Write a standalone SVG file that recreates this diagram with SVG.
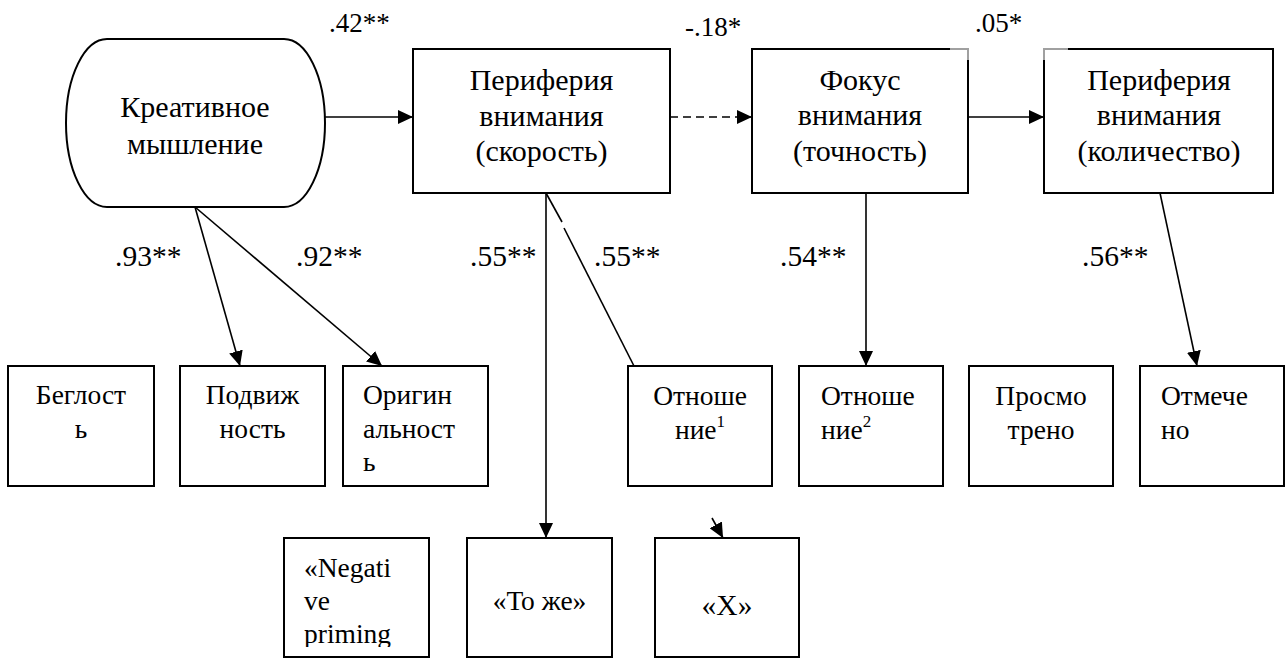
<svg xmlns="http://www.w3.org/2000/svg" width="1287" height="659" viewBox="0 0 1287 659">
  <style>
    .box { fill: #fff; stroke: #000; stroke-width: 2; }
    .edge { fill: none; stroke: #000; stroke-width: 1.6; }
    .arrow { marker-end: url(#ah); }
    .dash { stroke-dasharray: 8 5; }
    .ghost { stroke: #a0a0a0; stroke-width: 2; fill: none; }
  </style>
  <defs>
    <marker id="ah" markerUnits="userSpaceOnUse" markerWidth="16" markerHeight="14" refX="15" refY="7" orient="auto">
      <path d="M0,0 L15,7 L0,14 z" fill="#000"/>
    </marker>
    <clipPath id="clipNeg">
      <rect x="284" y="538" width="145" height="109"/>
    </clipPath>
  </defs>

  <rect width="1287" height="659" fill="#fff"/>

  <!-- connectors -->
  <g id="connectors">
    <line class="edge arrow" x1="325" y1="117" x2="413" y2="117"/>
    <line class="edge arrow dash" x1="670" y1="117" x2="752" y2="117"/>
    <line class="edge arrow" x1="968" y1="117" x2="1044" y2="117"/>
    <line class="edge arrow" x1="195" y1="207" x2="240" y2="366"/>
    <line class="edge arrow" x1="195" y1="207" x2="382" y2="366"/>
    <line class="edge arrow" x1="546" y1="193" x2="546" y2="538"/>
    <line class="edge" x1="546" y1="193" x2="562" y2="222"/>
    <line class="edge" x1="564" y1="228" x2="634" y2="366"/>
    <line class="edge arrow" x1="712" y1="518" x2="723" y2="538"/>
    <line class="edge arrow" x1="866" y1="193" x2="866" y2="366"/>
    <line class="edge arrow" x1="1160" y1="193" x2="1197" y2="366"/>
  </g>

  <!-- top row -->
  <g id="creative">
    <path class="box" d="M107,39 H284 A41,84 0 0 1 284,207 H107 A41,84 0 0 1 107,39 Z"/>
    <text font-family="'Liberation Serif', serif" font-size="30" text-anchor="middle" x="195" y="117">Креативное</text>
    <text font-family="'Liberation Serif', serif" font-size="30" text-anchor="middle" x="195" y="154">мышление</text>
  </g>
  <g id="periphery-speed">
    <rect class="box" x="413" y="49" width="257" height="144"/>
    <text font-family="'Liberation Serif', serif" font-size="30" text-anchor="middle" x="541.5" y="90">Периферия</text>
    <text font-family="'Liberation Serif', serif" font-size="30" text-anchor="middle" x="541.5" y="126">внимания</text>
    <text font-family="'Liberation Serif', serif" font-size="30" text-anchor="middle" x="541.5" y="161">(скорость)</text>
  </g>
  <g id="focus-accuracy">
    <rect class="box" x="752" y="49" width="216" height="144"/>
    <path class="ghost" d="M950,49 H968 V60"/>
    <text font-family="'Liberation Serif', serif" font-size="30" text-anchor="middle" x="860" y="90">Фокус</text>
    <text font-family="'Liberation Serif', serif" font-size="30" text-anchor="middle" x="860" y="125">внимания</text>
    <text font-family="'Liberation Serif', serif" font-size="30" text-anchor="middle" x="860" y="161">(точность)</text>
  </g>
  <g id="periphery-count">
    <rect class="box" x="1044" y="49" width="229" height="144"/>
    <path class="ghost" d="M1044,60 V49 H1068"/>
    <text font-family="'Liberation Serif', serif" font-size="30" text-anchor="middle" x="1159" y="90">Периферия</text>
    <text font-family="'Liberation Serif', serif" font-size="30" text-anchor="middle" x="1159" y="125">внимания</text>
    <text font-family="'Liberation Serif', serif" font-size="30" text-anchor="middle" x="1159" y="161">(количество)</text>
  </g>

  <!-- path coefficients -->
  <g id="coefficients">
    <text font-family="'Liberation Serif', serif" font-size="27" x="329" y="32">.42**</text>
    <text font-family="'Liberation Serif', serif" font-size="27" x="685" y="36">-.18*</text>
    <text font-family="'Liberation Serif', serif" font-size="27" x="975" y="32">.05*</text>
    <text font-family="'Liberation Serif', serif" font-size="29.5" x="115" y="266">.93**</text>
    <text font-family="'Liberation Serif', serif" font-size="29.5" x="296" y="266">.92**</text>
    <text font-family="'Liberation Serif', serif" font-size="29.5" x="470" y="266">.55**</text>
    <text font-family="'Liberation Serif', serif" font-size="29.5" x="594" y="266">.55**</text>
    <text font-family="'Liberation Serif', serif" font-size="29.5" x="780" y="266">.54**</text>
    <text font-family="'Liberation Serif', serif" font-size="29.5" x="1082" y="266">.56**</text>
  </g>

  <!-- indicator row -->
  <g id="fluency">
    <rect class="box" x="8" y="366" width="146" height="120"/>
    <text font-family="'Liberation Serif', serif" font-size="27.5" text-anchor="middle" x="81" y="404">Беглост</text>
    <text font-family="'Liberation Serif', serif" font-size="27.5" text-anchor="middle" x="81" y="438">ь</text>
  </g>
  <g id="flexibility">
    <rect class="box" x="180" y="366" width="145" height="120"/>
    <text font-family="'Liberation Serif', serif" font-size="27.5" text-anchor="middle" x="252.5" y="404">Подвиж</text>
    <text font-family="'Liberation Serif', serif" font-size="27.5" text-anchor="middle" x="252.5" y="438">ность</text>
  </g>
  <g id="originality">
    <rect class="box" x="343" y="366" width="145" height="120"/>
    <text font-family="'Liberation Serif', serif" font-size="27.5" x="363" y="404">Оригин</text>
    <text font-family="'Liberation Serif', serif" font-size="27.5" x="363" y="438">альност</text>
    <text font-family="'Liberation Serif', serif" font-size="27.5" x="363" y="471">ь</text>
  </g>
  <g id="ratio-1">
    <rect class="box" x="628" y="366" width="144" height="120"/>
    <text font-family="'Liberation Serif', serif" font-size="27.5" text-anchor="middle" x="700" y="405">Отноше</text>
    <text font-family="'Liberation Serif', serif" font-size="27.5" text-anchor="middle" x="700" y="439">ние<tspan font-size="17" dy="-12">1</tspan></text>
  </g>
  <g id="ratio-2">
    <rect class="box" x="799" y="366" width="144" height="120"/>
    <text font-family="'Liberation Serif', serif" font-size="27.5" x="821" y="405">Отноше</text>
    <text font-family="'Liberation Serif', serif" font-size="27.5" x="821" y="439">ние<tspan font-size="17" dy="-12">2</tspan></text>
  </g>
  <g id="viewed">
    <rect class="box" x="969" y="366" width="144" height="120"/>
    <text font-family="'Liberation Serif', serif" font-size="27.5" text-anchor="middle" x="1041" y="405">Просмо</text>
    <text font-family="'Liberation Serif', serif" font-size="27.5" text-anchor="middle" x="1041" y="439">трено</text>
  </g>
  <g id="marked">
    <rect class="box" x="1140" y="366" width="144" height="120"/>
    <text font-family="'Liberation Serif', serif" font-size="27.5" x="1161" y="405">Отмече</text>
    <text font-family="'Liberation Serif', serif" font-size="27.5" x="1161" y="439">но</text>
  </g>

  <!-- priming row -->
  <g id="negative-priming">
    <rect class="box" x="284" y="538" width="145" height="119"/>
    <g clip-path="url(#clipNeg)">
      <text font-family="'Liberation Serif', serif" font-size="27.5" x="304" y="577">«Negati</text>
      <text font-family="'Liberation Serif', serif" font-size="27.5" x="304" y="610">ve</text>
      <text font-family="'Liberation Serif', serif" font-size="27.5" x="304" y="643">priming</text>
    </g>
  </g>
  <g id="same">
    <rect class="box" x="467" y="538" width="145" height="119"/>
    <text font-family="'Liberation Serif', serif" font-size="27.5" text-anchor="middle" x="539.5" y="610">«То же»</text>
  </g>
  <g id="x-stimulus">
    <rect class="box" x="655" y="538" width="144" height="119"/>
    <text font-family="'Liberation Serif', serif" font-size="29.5" text-anchor="middle" x="727" y="615">«X»</text>
  </g>
</svg>
